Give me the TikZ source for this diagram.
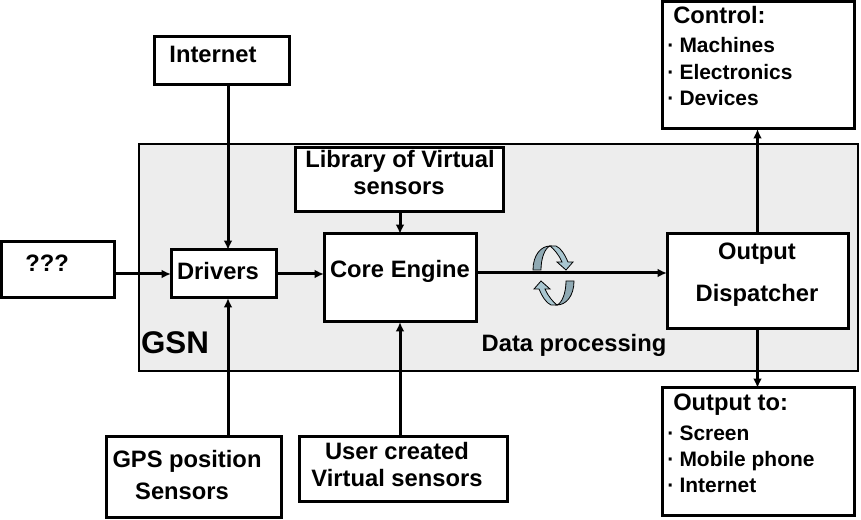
\documentclass[tikz,border=0pt]{standalone}
\usepackage{fontspec}
\setmainfont{Liberation Sans}
\usetikzlibrary{arrows.meta}
\tikzset{
  block/.style={draw, line width=2.25pt, fill=white, inner sep=0pt, outer sep=0pt, anchor=north west},
  txt/.style={font=\fontsize{17.8}{20}\selectfont\bfseries, inner sep=0pt},
  itm/.style={font=\fontsize{15.7}{18}\selectfont\bfseries, inner sep=0pt, anchor=west},
  conn/.style={line width=2.25pt, -{Latex[length=7pt,width=6.5pt]}},
  loopshape/.pic={
    \fill[draw=black, line width=0.6pt, fill=loopdark] (-20.5,-5.5) .. controls (-20.5,-20.5) and (-12.5,-29.5) .. (-3.5,-29.5) .. controls (-8.5,-27.5) and (-12.5,-17.5) .. (-12.5,-5.5) -- cycle;
    \fill[draw=black, line width=0.6pt, fill=looplight] (-3.5,-29.5) -- (2.5,-29.5) .. controls (7.5,-27.5) and (11.5,-20.5) .. (14.5,-13.5) -- (19.5,-13.5) -- (12.5,-5.5) -- (3.5,-13.5) -- (8.5,-13.5) .. controls (5.5,-20.5) and (0.5,-26.5) .. (-3.5,-29.5) -- cycle;
  }
}
\definecolor{panelgray}{HTML}{EDEDED}
\definecolor{loopdark}{HTML}{8FA9B3}
\definecolor{looplight}{HTML}{A9C6D0}
\begin{document}
\begin{tikzpicture}[x=0.75pt, y=-0.75pt]
  \useasboundingbox (0,0) rectangle (861,520);

  % Panel
  \node[block, line width=2pt, fill=panelgray, minimum width=719*0.75pt, minimum height=227*0.75pt] (gsn) at (139,144) {};
  \node[txt, font=\fontsize{23.5}{28}\selectfont\bfseries] (gsnlabel) at (175,343) {GSN};
  \node[txt] (datalabel) at (574,345) {Data processing};

  % Blocks
  \node[block, minimum width=135*0.75pt, minimum height=48*0.75pt] (internet) at (154,37) {};
  \node[block, minimum width=192*0.75pt, minimum height=127*0.75pt] (control) at (662,2) {};
  \node[block, minimum width=208*0.75pt, minimum height=64*0.75pt] (library) at (295,148) {};
  \node[block, minimum width=113*0.75pt, minimum height=56*0.75pt] (unknown) at (1,242) {};
  \node[block, minimum width=105*0.75pt, minimum height=48*0.75pt] (drivers) at (171,250) {};
  \node[block, minimum width=152*0.75pt, minimum height=88*0.75pt] (core) at (324,234) {};
  \node[block, minimum width=181*0.75pt, minimum height=95*0.75pt] (output) at (667,234) {};
  \node[block, minimum width=192*0.75pt, minimum height=127*0.75pt] (outputto) at (662,388) {};
  \node[block, minimum width=175*0.75pt, minimum height=80*0.75pt] (gps) at (106,437) {};
  \node[block, minimum width=208*0.75pt, minimum height=64*0.75pt] (user) at (299,437) {};

  % Textos
  \node[txt] (t1) at (213,54) {Internet};
  \node[txt] (t2) at (400,161) {Library of Virtual};
  \node[txt] (t3) at (399,188) {sensors};
  \node[txt] (t4) at (47,263) {???};
  \node[txt] (t5) at (218,271) {Drivers};
  \node[txt] (t6) at (400,271) {Core Engine};
  \node[txt] (t7) at (757,254) {Output};
  \node[txt] (t8) at (757,295) {Dispatcher};
  \node[txt] (t9) at (397,451) {User created};
  \node[txt] (t10) at (397,478) {Virtual sensors};
  \node[txt] (t11) at (187,461) {GPS position};
  \node[txt] (t12) at (182,491) {Sensors};
  \node[txt, anchor=west] (t13) at (673,15) {Control:};
  \node[txt, anchor=west] (t14) at (673,405) {Output to:};

  % Listas
  \node[itm] (c1) at (667,45) {\textperiodcentered\hspace{4pt}Machines};
  \node[itm] (c2) at (667,72) {\textperiodcentered\hspace{4pt}Electronics};
  \node[itm] (c3) at (667,98) {\textperiodcentered\hspace{4pt}Devices};
  \node[itm] (o1) at (667,433) {\textperiodcentered\hspace{4pt}Screen};
  \node[itm] (o2) at (667,461) {\textperiodcentered\hspace{4pt}Mobile phone};
  \node[itm] (o3) at (667,485) {\textperiodcentered\hspace{4pt}Internet};

  % Conexiones
  \coordinate (drvx) at (228,274);
  \coordinate (corex) at (400,273);
  \draw[conn] (internet.south -| drvx) -- (drivers.north -| drvx);
  \draw[conn] (gps.north -| drvx) -- (drivers.south -| drvx);
  \draw[conn] (unknown.east |- drvx) -- (drivers.west |- drvx);
  \draw[conn] (drivers.east |- drvx) -- (core.west |- drvx);
  \draw[conn] (library.south -| corex) -- (core.north -| corex);
  \draw[conn] (user.north -| corex) -- (core.south -| corex);
  \draw[conn] (core.east |- corex) -- (output.west |- corex);
  \draw[conn] (output.north) -- (control.south -| output.north);
  \draw[conn] (output.south) -- (outputto.north -| output.south);

  % Flechas circulares
  \pic at (553.5,275.5) {loopshape};
  \pic[rotate=180] at (553.5,275.5) {loopshape};
\end{tikzpicture}
\end{document}
